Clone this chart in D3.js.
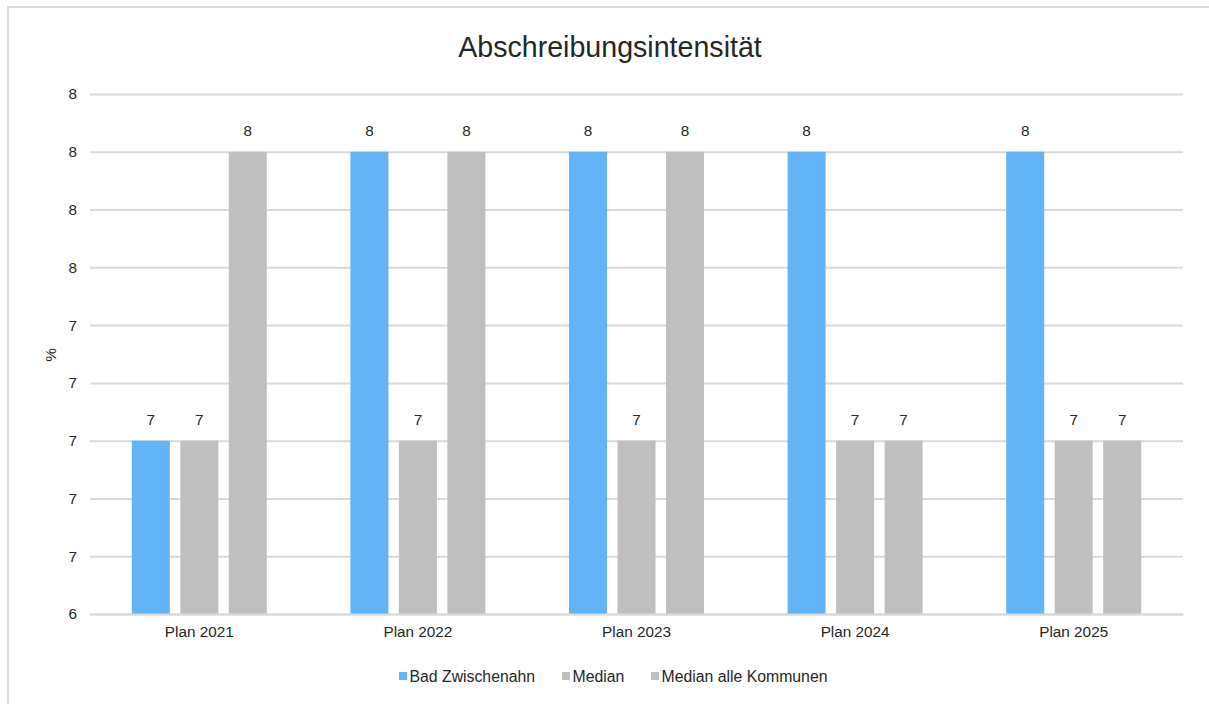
<!DOCTYPE html>
<html><head><meta charset="utf-8">
<script src="https://cdn.jsdelivr.net/npm/d3@7"></script>
<style>
html,body{margin:0;padding:0;background:#fff;}
text{font-family:"Liberation Sans",Arial,sans-serif;}
</style></head>
<body>
<svg id="chart" width="1209" height="704"></svg>
<script>
const categories = ["Plan 2021","Plan 2022","Plan 2023","Plan 2024","Plan 2025"];
const seriesNames = ["Bad Zwischenahn","Median","Median alle Kommunen"];
const badZwischenahn = [7, 8, 8, 8, 8];
const median = [7, 7, 7, 7, 7];
const medianAlleKommunen = [8, 8, 8, 7, 7];
const yTicks = [6.4, 6.6, 6.8, 7.0, 7.2, 7.4, 7.6, 7.8, 8.0, 8.2];
const colors = ["#63B4F5", "#BFBFBF", "#BFBFBF"];

const seriesValues = [badZwischenahn, median, medianAlleKommunen];
const data = categories.map((c, i) => ({cat: c, vals: seriesNames.map((s, j) => ({s, v: seriesValues[j][i], j}))}));

const svg = d3.select("#chart");
const m = {left: 90, right: 26, top: 94, bottom: 90};
const W = 1209, H = 704;
const plotR = W - m.right, plotB = H - m.bottom;
const fs = 15.3;

// frame
svg.append("rect").attr("x", 8).attr("y", 7).attr("width", 1210).attr("height", 710)
  .attr("fill", "none").attr("stroke", "#d9d9d9").attr("stroke-width", 2);

const x0 = d3.scaleBand().domain(categories).range([m.left, plotR]).padding(0);
const x1 = d3.scaleBand().domain(seriesNames).range([0, x0.bandwidth()]).paddingInner(0.216).paddingOuter(0.862);
const y = d3.scaleLinear().domain([6.4, 8.2]).range([plotB, m.top]);

// grid
const yAxis = d3.axisLeft(y).tickValues(yTicks).tickFormat(d3.format(".0f")).tickSize(-(plotR - m.left)).tickPadding(13);
const gy = svg.append("g").attr("transform", `translate(${m.left},0)`).call(yAxis);
gy.select(".domain").remove();
gy.selectAll(".tick line").attr("stroke", "#d9d9d9").attr("stroke-width", 2);
gy.selectAll(".tick text").attr("font-size", fs).attr("fill", "#262626");

// bars
const groups = svg.append("g").selectAll("g").data(data).join("g")
  .attr("transform", d => `translate(${x0(d.cat)},0)`);
groups.selectAll("rect").data(d => d.vals).join("rect")
  .attr("x", d => x1(d.s)).attr("width", x1.bandwidth())
  .attr("y", d => y(d.v)).attr("height", d => plotB - y(d.v))
  .attr("fill", d => colors[d.j]);
groups.selectAll("text.lbl").data(d => d.vals).join("text").attr("class", "lbl")
  .attr("x", d => x1(d.s) + x1.bandwidth() / 2).attr("y", d => y(d.v) - 16)
  .attr("text-anchor", "middle").attr("font-size", fs).attr("fill", "#262626")
  .text(d => d3.format(".0f")(d.v));

// x axis
const xAxis = d3.axisBottom(x0).tickSize(0).tickPadding(12);
const gx = svg.append("g").attr("transform", `translate(0,${plotB})`).call(xAxis);
gx.select(".domain").attr("stroke", "#d9d9d9").attr("stroke-width", 2);
gx.selectAll(".tick text").attr("font-size", fs).attr("fill", "#262626");

// title
svg.append("text").attr("x", 610).attr("y", 57).attr("text-anchor", "middle")
  .attr("font-size", 28.6).attr("fill", "#262626").text("Abschreibungsintensität");

// y label
svg.append("text").attr("transform", `translate(56,355) rotate(-90)`).attr("text-anchor", "middle")
  .attr("font-size", fs).attr("fill", "#262626").text("%");

// legend
const legendX = [399, 562, 651];
const lg = svg.append("g").selectAll("g").data(seriesNames).join("g")
  .attr("transform", (d, i) => `translate(${legendX[i]},676)`);
lg.append("rect").attr("x", 0).attr("y", -4).attr("width", 8).attr("height", 8).attr("fill", (d, i) => colors[i]);
lg.append("text").attr("x", 10.5).attr("y", 5.5).attr("font-size", 15.8).attr("fill", "#262626").text(d => d);
</script>
</body></html>
